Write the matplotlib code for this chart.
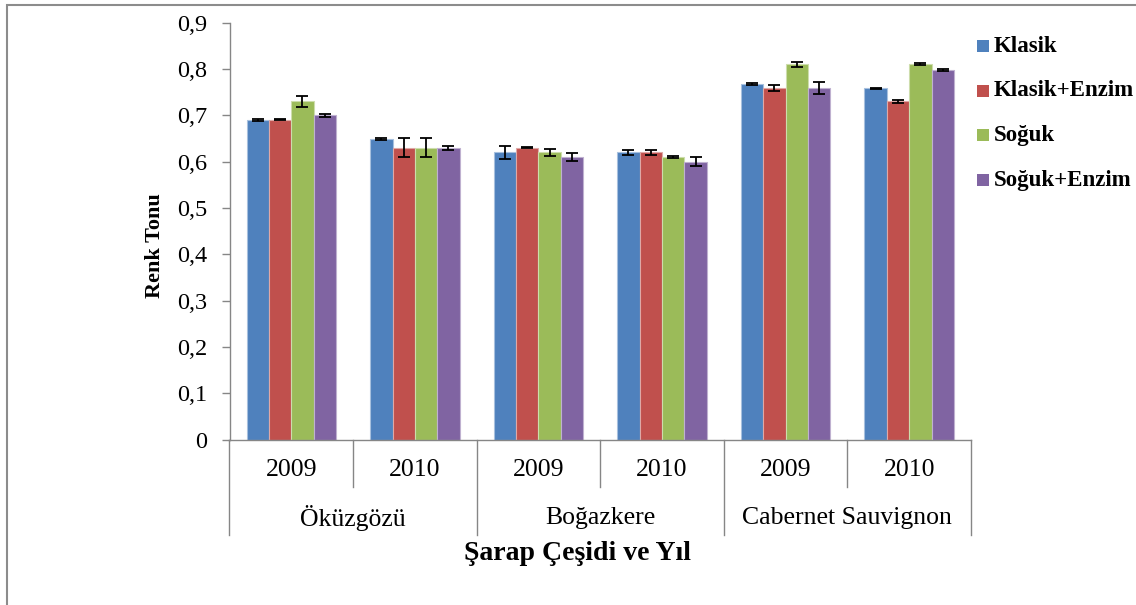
import numpy as np
import matplotlib.pyplot as plt
from matplotlib.patches import Rectangle
from matplotlib.transforms import blended_transform_factory

plt.rcParams['font.family'] = ['Liberation Serif', 'DejaVu Serif']

# data
years = ["2009", "2010", "2009", "2010", "2009", "2010"]
varieties = ["Öküzgözü", "Boğazkere", "Cabernet Sauvignon"]
series = ["Klasik", "Klasik+Enzim", "Soğuk", "Soğuk+Enzim"]
colors = ["#4F81BD", "#C0504D", "#9BBB59", "#8064A2"]
edges = ["#A7C0DE", "#DFA8A6", "#CDDDAC", "#BFB1D0"]

klasik = [0.690, 0.648, 0.620, 0.620, 0.768, 0.758]
klasik_enzim = [0.690, 0.630, 0.630, 0.620, 0.759, 0.730]
soguk = [0.730, 0.630, 0.620, 0.610, 0.810, 0.810]
soguk_enzim = [0.700, 0.630, 0.610, 0.600, 0.759, 0.798]

klasik_err = [0.003, 0.002, 0.014, 0.005, 0.002, 0.001]
klasik_enzim_err = [0.001, 0.020, 0.001, 0.005, 0.006, 0.004]
soguk_err = [0.012, 0.020, 0.007, 0.003, 0.006, 0.002]
soguk_enzim_err = [0.003, 0.004, 0.008, 0.010, 0.014, 0.002]

values = [klasik, klasik_enzim, soguk, soguk_enzim]
errors = [klasik_err, klasik_enzim_err, soguk_err, soguk_enzim_err]

W, H = 1136, 605
fig = plt.figure(figsize=(W / 100, H / 100), dpi=100)
ax = fig.add_axes([229.5 / W, 1 - 439.5 / H, (971 - 229.5) / W, (439.5 - 22.7) / H])

grey = "#868686"
x = np.arange(len(years))
bw = 0.181
for i, (vals, errs) in enumerate(zip(values, errors)):
    pos = x + (i - 1.5) * bw
    ax.bar(pos, vals, width=bw, color=colors[i], edgecolor=edges[i], linewidth=0.8, zorder=2)
    ax.errorbar(pos, vals, yerr=errs, fmt="none", ecolor="black", elinewidth=1.3,
                capsize=4.5, capthick=1.3, zorder=3)

ax.set_xlim(-0.5, len(years) - 0.5)
ax.set_ylim(0, 0.9)
ax.set_yticks(np.arange(0, 0.91, 0.1))
ax.set_yticklabels(["0" if v == 0 else f"{v:.1f}".replace(".", ",") for v in np.arange(0, 0.91, 0.1)],
                   fontsize=17.5)
ax.tick_params(axis="y", direction="out", length=6, color=grey, width=1, pad=10)
ax.set_xticks([])
for s in ["top", "right"]:
    ax.spines[s].set_visible(False)
for s in ["left", "bottom"]:
    ax.spines[s].set_color(grey)
    ax.spines[s].set_linewidth(1)

# multi-level category axis
tr = blended_transform_factory(ax.transData, ax.transAxes)
short_y = -(487 - 439.5) / (439.5 - 22.7)
long_y = -(535 - 439.5) / (439.5 - 22.7)
for b in np.arange(-0.5, len(years), 1.0):
    end = long_y if int(b + 0.5) % 2 == 0 else short_y
    ax.plot([b, b], [0, end], color=grey, lw=1, transform=tr, clip_on=False)
for xi, yr in zip(x, years):
    ax.text(xi, -0.073, yr, transform=tr, ha="center", va="center", fontsize=18.5)
for j, v in enumerate(varieties):
    ax.text(2 * j + 0.5, -0.188, v, transform=tr, ha="center", va="center", fontsize=18.5)

fig.text(155 / W, 1 - 246 / H, "Renk Tonu", rotation=90, ha="center", va="center",
         fontsize=16, fontweight="bold")
fig.text(578 / W, 1 - 553 / H, "Şarap Çeşidi ve Yıl", ha="center", va="center",
         fontsize=20, fontweight="bold")

# legend
for i, name in enumerate(series):
    yc = 1 - (46 + 44.7 * i) / H
    fig.patches.append(Rectangle((977 / W, yc - 6 / H), 12 / W, 12 / H, transform=fig.transFigure,
                                 facecolor=colors[i], edgecolor="none"))
    fig.text(994 / W, yc, name, ha="left", va="center", fontsize=16.5, fontweight="bold")

# chart border
fig.patches.append(Rectangle((7 / W, -0.1), 1.2, 1 - 5 / H + 0.1, transform=fig.transFigure,
                             facecolor="none", edgecolor="#8C8C8C", linewidth=1.5))

fig.savefig("out.png", dpi=100)
